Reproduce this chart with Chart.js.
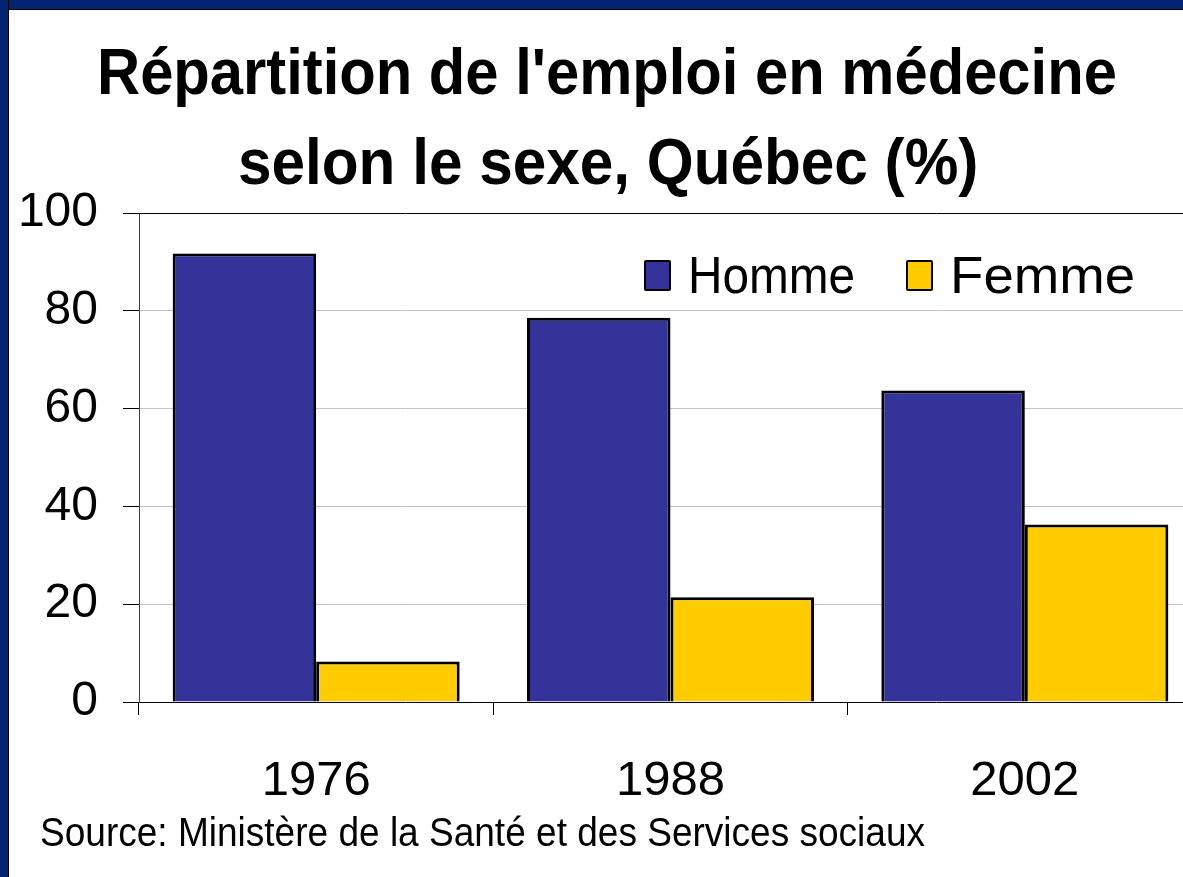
<!DOCTYPE html>
<html>
<head>
<meta charset="utf-8">
<script src="https://cdn.jsdelivr.net/npm/chart.js@4"></script>
<style>
  html, body { margin: 0; padding: 0; background: #fff; overflow: hidden; }
  body { width: 1183px; height: 877px; position: relative; font-family: "Liberation Sans", Arial, sans-serif; }
  .frameTop { position: absolute; left: 0; top: 0; width: 1183px; height: 9px; background: #00246f; border-bottom: 1px solid #000; }
  .frameLeft { position: absolute; left: 0; top: 0; width: 8px; height: 877px; background: #00246f; border-right: 1px solid #000; }
  .txt { position: absolute; white-space: nowrap; color: #000; transform-origin: 0 0; }
  .title { font-weight: bold; font-size: 65px; line-height: 65px; }
  .leg { font-size: 52px; line-height: 52px; }
  .box { position: absolute; width: 23px; height: 27px; border: 2.5px solid #000; border-radius: 2px; }
  .src { font-size: 40px; line-height: 40px; }
  #wrap { position: absolute; left: 0; top: 0; width: 1215px; height: 877px; }
</style>
</head>
<body>
<div id="wrap"><canvas id="chart"></canvas></div>
<div class="frameTop"></div>
<div class="frameLeft"></div>

<div class="txt title" style="left:97px;top:39px" data-w="1020">Répartition de l'emploi en médecine</div>
<div class="txt title" style="left:238px;top:129px" data-w="740">selon le sexe, Québec (%)</div>

<div class="box" style="left:644px;top:260px;background:#333399"></div>
<div class="txt leg" style="left:688px;top:249px" data-w="167">Homme</div>
<div class="box" style="left:906px;top:260px;background:#ffcc00"></div>
<div class="txt leg" style="left:950px;top:249px" data-w="185">Femme</div>

<div class="txt src" style="left:40px;top:812px" data-w="885">Source: Ministère de la Santé et des Services sociaux</div>

<script>
// data
const years = ["1976", "1988", "2002"];
const hommes = [91.7, 78.6, 63.7];
const femmes = [8.3, 21.4, 36.3];
const yTicks = [0, 20, 40, 60, 80, 100];

// squeeze html text to the width it has in the picture
document.querySelectorAll(".txt").forEach((el) => {
  const w = parseFloat(el.dataset.w);
  el.style.transform = "scaleX(" + w / el.offsetWidth + ")";
});

const ctx = document.getElementById("chart");
new Chart(ctx, {
  type: "bar",
  data: {
    labels: years,
    datasets: [
      {
        label: "Homme",
        data: hommes,
        backgroundColor: "#333399",
        borderColor: "#000",
        borderWidth: 3,
      },
      {
        label: "Femme",
        data: femmes,
        backgroundColor: "#ffcc00",
        borderColor: "#000",
        borderWidth: 3,
      },
    ],
  },
  options: {
    responsive: true,
    maintainAspectRatio: false,
    animation: false,
    categoryPercentage: 0.81,
    barPercentage: 1,
    layout: { padding: { top: 213, right: 13, left: 0, bottom: 0 } },
    plugins: {
      legend: { display: false },
      tooltip: { enabled: false },
    },
    scales: {
      x: {
        grid: {
          offset: true,
          drawOnChartArea: false,
          tickLength: 13,
          tickColor: "#000",
        },
        border: { display: false },
        ticks: {
          color: "#000",
          padding: 37,
          font: { family: "'Liberation Sans', Arial", size: 49 },
        },
        afterFit: (scale) => {
          scale.height = 175;
        },
      },
      y: {
        min: 0,
        max: 100,
        afterBuildTicks: (scale) => {
          scale.ticks = yTicks.map((v) => ({ value: v }));
        },
        grid: {
          color: (c) =>
            c.tick && (c.tick.value === 0 || c.tick.value === 100)
              ? "#000"
              : "#c4c4c4",
          tickColor: "#000",
          tickLength: 16,
          lineWidth: 1,
        },
        border: { display: true, color: "#404040", width: 1 },
        ticks: {
          color: "#000",
          padding: 25,
          font: { family: "'Liberation Sans', Arial", size: 48 },
        },
        afterFit: (scale) => {
          scale.width = 139;
        },
      },
    },
  },
});
</script>
</body>
</html>
